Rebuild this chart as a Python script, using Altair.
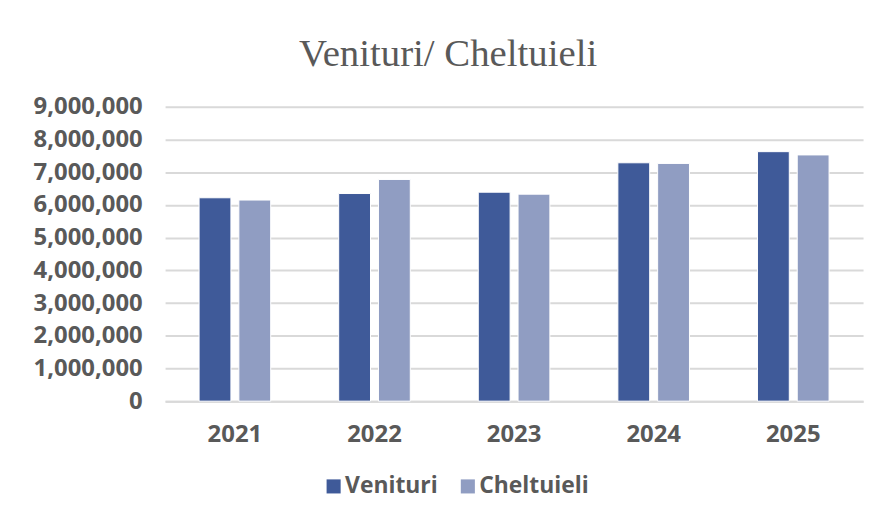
import altair as alt
import pandas as pd

years = ["2021", "2022", "2023", "2024", "2025"]
venituri = [6220000, 6350000, 6390000, 7290000, 7630000]
cheltuieli = [6150000, 6780000, 6330000, 7270000, 7530000]
series = ["Venituri", "Cheltuieli"]
colors = ["#3f5a99", "#909dc2"]

rows = []
for i, y in enumerate(years):
    rows.append({"An": y, "Serie": "Venituri", "Valoare": venituri[i]})
    rows.append({"An": y, "Serie": "Cheltuieli", "Valoare": cheltuieli[i]})
df = pd.DataFrame(rows)

FONT = "Open Sans"
GREY = "#595959"

chart = alt.Chart(df).mark_bar(stroke="white", strokeWidth=1).encode(
    x=alt.X("An:N", title=None, sort=years,
            scale=alt.Scale(paddingInner=0.487, paddingOuter=0.2435),
            axis=alt.Axis(labelAngle=0, labelFont=FONT, labelFontWeight="bold",
                          labelFontSize=24, labelColor=GREY, labelPadding=22,
                          domainColor="#d9d9d9", domainWidth=2, ticks=False)),
    xOffset=alt.XOffset("Serie:N", sort=series, scale=alt.Scale(paddingInner=0.2)),
    y=alt.Y("Valoare:Q", title=None,
            scale=alt.Scale(domain=[0, 9000000], nice=False),
            axis=alt.Axis(values=list(range(0, 9000001, 1000000)), format=",d",
                          labelFont=FONT, labelFontWeight="bold", labelFontSize=24,
                          labelColor=GREY, labelPadding=23, domain=False,
                          ticks=False, gridColor="#d9d9d9", gridWidth=2)),
    color=alt.Color("Serie:N", sort=series,
                    scale=alt.Scale(domain=series, range=colors),
                    legend=alt.Legend(orient="none", legendX=158, legendY=370,
                                      direction="horizontal", title=None,
                                      symbolType="square",
                                      symbolSize=200, symbolStrokeWidth=0,
                                      labelFont=FONT, labelFontWeight="bold",
                                      labelFontSize=23, labelColor=GREY,
                                      labelOffset=0,
                                      columnPadding=18, symbolOffset=0)),
).properties(
    width=702, height=296,
    title=alt.TitleParams("Venituri/ Cheltuieli", font="Liberation Serif", fontSize=39,
                          fontWeight="normal", color=GREY, offset=21,
                          frame="bounds", anchor="middle"),
    padding={"left": 25, "top": 26, "right": 10, "bottom": 5},
).configure_view(stroke=None)

chart.save("out.html", embed_options={"renderer": "svg", "actions": False})
